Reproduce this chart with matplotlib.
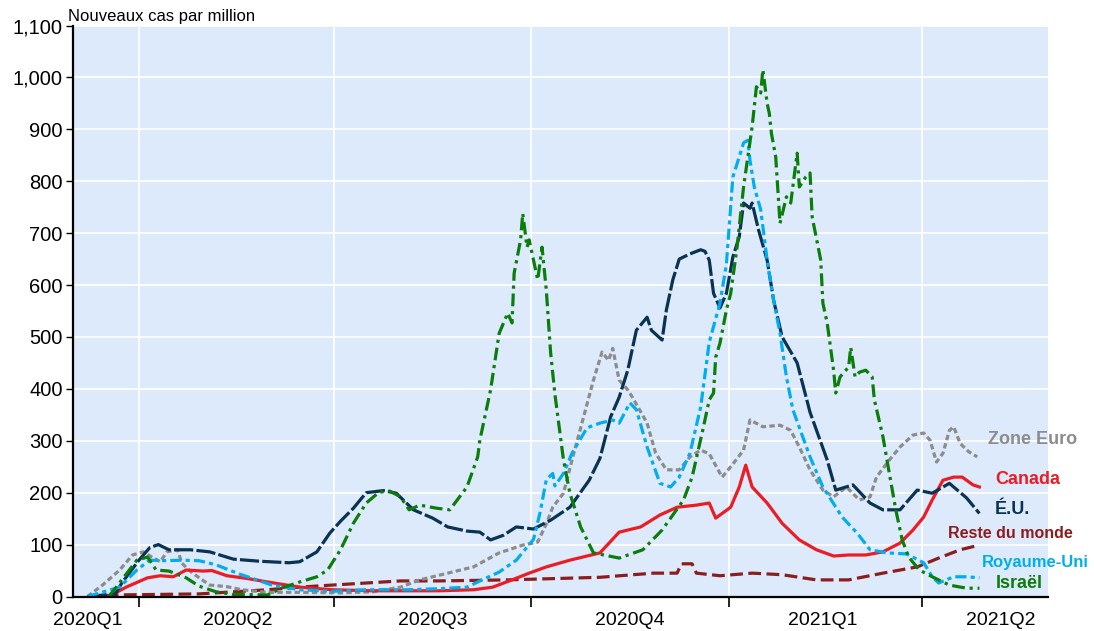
import pandas as pd
import matplotlib
matplotlib.use("Agg")
import matplotlib.pyplot as plt
from matplotlib.ticker import FuncFormatter

start = pd.Timestamp("2020-03-01")

# jours depuis le 1er mars 2020 -> nouveaux cas par million (moyenne mobile)
us_days = [7, 20, 23, 31, 36, 40, 45, 55, 64, 75, 87, 101, 106, 114, 120, 125, 131, 137, 145, 151,
           159, 168, 175, 184, 190, 195, 201, 207, 215, 223, 232, 241, 246, 251, 255, 259, 263, 268, 270, 275,
           277, 280, 283, 288, 293, 295, 297, 299, 302, 305, 308, 311, 313, 316, 317, 320, 324, 327, 331, 338,
           344, 352, 356, 364, 372, 378, 386, 394, 401, 409, 417, 423]
us_vals = [0, 5, 26, 70, 94, 100, 90, 90, 86, 72, 68, 65, 67, 86, 122, 145, 170, 200, 204, 199,
           167, 151, 134, 126, 124, 109, 118, 134, 130, 147, 172, 224, 266, 346, 384, 436, 513, 538, 513, 494,
           552, 610, 650, 660, 668, 665, 648, 584, 556, 584, 654, 693, 758, 748, 758, 706, 648, 571, 500, 450,
           355, 263, 205, 215, 180, 167, 167, 205, 199, 218, 190, 160]

is_days = [17, 23, 30, 35, 39, 45, 53, 59, 67, 75, 91, 98, 106, 114, 119, 125, 131, 137, 143, 148,
           153, 157, 162, 170, 176, 184, 189, 190, 195, 199, 203, 205, 206, 209, 210, 212, 213, 217, 219, 221,
           223, 225, 229, 232, 237, 243, 255, 266, 275, 285, 289, 294, 297, 299, 300, 302, 305, 307, 310, 313,
           317, 319, 321, 322, 324, 325, 326, 328, 330, 333, 335, 338, 339, 342, 344, 345, 349, 350, 352, 355,
           356, 358, 362, 363, 365, 367, 370, 373, 374, 378, 381, 384, 387, 390, 395, 401, 409, 417, 423]
is_vals = [0, 32, 70, 76, 51, 49, 36, 20, 9, 4, 3, 17, 28, 38, 51, 90, 141, 180, 201, 203,
           192, 167, 176, 170, 167, 211, 269, 301, 398, 507, 546, 527, 623, 687, 738, 673, 687, 610, 673, 590,
           470, 390, 263, 199, 134, 84, 74, 90, 128, 186, 230, 321, 379, 392, 461, 488, 552, 584, 674, 789,
           905, 982, 970, 1015, 950, 931, 892, 847, 719, 770, 758, 854, 789, 808, 816, 731, 648, 565, 527, 436,
           392, 423, 442, 480, 423, 432, 436, 423, 379, 308, 237, 167, 109, 76, 51, 38, 22, 16, 16]

uk_days = [7, 22, 30, 36, 44, 51, 59, 67, 78, 86, 93, 106, 121, 137, 156, 171, 184, 191, 199, 207,
           209, 215, 218, 221, 224, 225, 229, 233, 240, 246, 252, 255, 260, 263, 268, 274, 279, 283, 288, 293,
           297, 302, 305, 308, 311, 313, 315, 316, 318, 321, 324, 327, 330, 333, 336, 344, 350, 359, 366, 372,
           380, 389, 397, 401, 404, 411, 417, 423]
uk_vals = [0, 18, 51, 70, 69, 70, 69, 61, 43, 32, 22, 13, 10, 13, 13, 15, 18, 32, 47, 70,
           80, 110, 160, 225, 237, 213, 237, 276, 325, 334, 340, 334, 373, 360, 288, 218, 211, 230, 276, 365,
           490, 565, 640, 808, 847, 874, 879, 840, 789, 745, 648, 571, 507, 423, 360, 269, 211, 153, 122, 90,
           84, 82, 65, 38, 26, 38, 38, 36]

ez_days = [7, 14, 22, 28, 33, 37, 41, 44, 49, 51, 56, 64, 72, 79, 91, 106, 125, 140, 153, 162,
           171, 187, 199, 210, 217, 221, 224, 229, 233, 238, 243, 247, 250, 252, 254, 255, 259, 261, 268, 272,
           277, 283, 288, 293, 297, 303, 308, 313, 316, 322, 330, 335, 339, 344, 350, 355, 361, 367, 372, 375,
           381, 386, 392, 397, 400, 403, 406, 409, 411, 414, 418, 422]
ez_vals = [0, 22, 51, 80, 86, 76, 67, 86, 90, 64, 45, 22, 19, 13, 8, 8, 7, 9, 18, 32,
           41, 57, 84, 99, 105, 140, 172, 199, 263, 340, 417, 471, 455, 478, 436, 417, 398, 385, 334, 276,
           244, 244, 269, 282, 275, 230, 255, 282, 340, 327, 330, 320, 288, 244, 205, 192, 211, 186, 192, 230,
           263, 288, 311, 315, 301, 259, 276, 320, 327, 295, 279, 269]

ca_days = [17, 25, 35, 41, 47, 53, 61, 65, 72, 81, 91, 106, 121, 140, 171, 187, 196, 205, 213, 221,
           232, 246, 255, 265, 274, 282, 291, 297, 300, 307, 311, 314, 317, 324, 331, 339, 347, 355, 362, 370,
           378, 386, 392, 397, 401, 406, 411, 415, 420, 423]
ca_vals = [0, 18, 36, 40, 38, 51, 49, 50, 40, 35, 28, 18, 13, 11, 11, 13, 18, 32, 45, 57,
           70, 84, 124, 134, 157, 172, 176, 180, 151, 172, 211, 253, 211, 180, 141, 109, 90, 78, 80, 80,
           86, 103, 128, 153, 186, 224, 230, 230, 215, 211]

rw_days = [7, 21, 59, 91, 106, 121, 137, 153, 171, 203, 246, 271, 282, 284, 289, 291, 302, 317, 331, 347,
           362, 378, 394, 404, 414, 423]
rw_vals = [0, 3, 5, 13, 18, 22, 26, 30, 30, 32, 37, 45, 45, 63, 63, 45, 40, 45, 42, 32,
           32, 45, 57, 74, 90, 99]

quarter_starts = ["2020-04-01", "2020-07-01", "2020-10-01", "2021-01-01", "2021-04-01"]
quarter_labels = ["2020Q1", "2020Q2", "2020Q3", "2020Q4", "2021Q1", "2021Q2"]
label_days = [7, 77, 168, 260, 350, 433]


def days(d):
    return start + pd.to_timedelta(d, unit="D")


plt.rcParams["font.family"] = ["Liberation Sans", "DejaVu Sans"]

fig = plt.figure(figsize=(10.94, 6.31), dpi=100)
W, H = 1094, 631
ax = fig.add_axes([72.5 / W, 1 - 596.5 / H, (1048 - 72.5) / W, 571 / H])
ax.set_facecolor("#DDEAFB")

lw = 2.3
ax.plot(days(rw_days), rw_vals, color="#8C1D1D", lw=lw, ls=(0, (4, 1.7)))
ax.plot(days(ez_days), ez_vals, color="#8C8C8C", lw=lw, ls=(0, (1.7, 1)))
ax.plot(days(ca_days), ca_vals, color="#EC1C24", lw=lw, ls="-")
ax.plot(days(us_days), us_vals, color="#0A3352", lw=lw, ls=(0, (6, 1)))
ax.plot(days(uk_days), uk_vals, color="#00AEEF", lw=lw, ls=(0, (3.5, 1.3, 1.3, 1.3)))
ax.plot(days(is_days), is_vals, color="#0A7D0A", lw=lw, ls=(0, (4, 1.5, 1, 1.5)))

ax.set_xlim(start, days(455))
ax.set_ylim(0, 1100)
ax.set_yticks(range(0, 1101, 100))
ax.yaxis.set_major_formatter(FuncFormatter(lambda v, p: f"{v:,.0f}"))

ax.set_xticks(pd.to_datetime(quarter_starts))
ax.set_xticklabels([])
ax.set_xticks(days(label_days), minor=True)
ax.set_xticklabels(quarter_labels, minor=True)
ax.tick_params(axis="x", which="major", length=7, width=1.2, direction="out")
ax.tick_params(axis="x", which="minor", length=0, pad=11, labelsize=14)
ax.tick_params(axis="y", length=5, width=1, pad=2, labelsize=14.5)

ax.grid(True, which="major", color="white", linewidth=1.2)
ax.set_axisbelow(True)
for s in ["top", "right"]:
    ax.spines[s].set_visible(False)
for s in ["left", "bottom"]:
    ax.spines[s].set_linewidth(1.6)

fig.text(68 / W, 1 - 17 / H, "Nouveaux cas par million", fontsize=12, va="center")

fig.text(988 / W, 1 - 440 / H, "Zone Euro", color="#8C8C8C", fontsize=13, weight="bold", va="center")
fig.text(995 / W, 1 - 479 / H, "Canada", color="#EC1C24", fontsize=13, weight="bold", va="center")
fig.text(995 / W, 1 - 510 / H, "É.U.", color="#0A3352", fontsize=13, weight="bold", va="center")
fig.text(948 / W, 1 - 533 / H, "Reste du monde", color="#8C1D1D", fontsize=11.5, weight="bold", va="center")
fig.text(982 / W, 1 - 563 / H, "Royaume-Uni", color="#00AEEF", fontsize=12, weight="bold", va="center")
fig.text(996 / W, 1 - 583 / H, "Israël", color="#0A7D0A", fontsize=13, weight="bold", va="center")

fig.savefig("out.png", dpi=100)
